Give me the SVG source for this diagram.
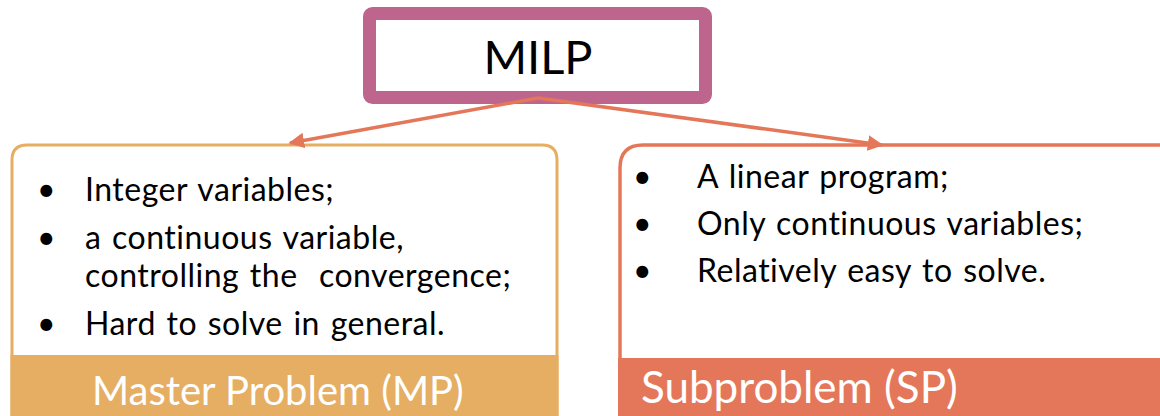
<svg xmlns="http://www.w3.org/2000/svg" width="1160" height="416" viewBox="0 0 1160 416">
  <style>
    .txt { font-family: Lato, "Open Sans", "Liberation Sans", sans-serif; fill: #000; white-space: pre; }
    .body { font-size: 32px; word-spacing: 2px; letter-spacing: 0.5px; }
    .band { font-size: 40px; fill: #fff; }
    .conn { fill: none; stroke: #E4775A; stroke-width: 3.5; }
  </style>
  <defs>
    <marker id="head" viewBox="0 0 10 10" refX="9" refY="5" markerWidth="4.5" markerHeight="4.5" orient="auto-start-reverse">
      <path d="M0,0 L10,5 L0,10 z" fill="#E4775A"/>
    </marker>
  </defs>

  <rect width="1160" height="416" fill="#fff"/>

  <!-- Master problem card -->
  <g id="master">
    <path d="M12,416 V160 Q12,145 27,145 H542 Q557,145 557,160 V416" fill="#fff" stroke="#E5AE63" stroke-width="3"/>
    <rect x="10.5" y="355" width="548" height="61" fill="#E5AE63"/>
    <text class="txt body" x="37" y="201">•</text>
    <text class="txt body" x="85" y="201">Integer variables;</text>
    <text class="txt body" x="37" y="249">•</text>
    <text class="txt body" x="85" y="249">a continuous variable,</text>
    <text class="txt body" x="85" y="287" xml:space="preserve">controlling the  convergence;</text>
    <text class="txt body" x="37" y="335">•</text>
    <text class="txt body" x="85" y="335">Hard to solve in general.</text>
    <text class="txt band" x="92" y="405">Master Problem (MP)</text>
  </g>

  <!-- Subproblem card -->
  <g id="subproblem">
    <path d="M620,416 V168 Q620,145 643,145 H1166" fill="#fff" stroke="#E4775A" stroke-width="3.5"/>
    <rect x="618" y="358" width="548" height="58" fill="#E4775A"/>
    <text class="txt body" x="633" y="188">•</text>
    <text class="txt body" x="697" y="188">A linear program;</text>
    <text class="txt body" x="633" y="235">•</text>
    <text class="txt body" x="697" y="235">Only continuous variables;</text>
    <text class="txt body" x="633" y="282">•</text>
    <text class="txt body" x="697" y="282">Relatively easy to solve.</text>
    <text class="txt band" x="641" y="403" style="font-size:44px">Subproblem (SP)</text>
  </g>

  <!-- MILP root -->
  <g id="milp">
    <rect x="369.5" y="13.5" width="336" height="84" rx="3" fill="#fff" stroke="#BD658C" stroke-width="13"/>
    <text class="txt" x="538" y="74" text-anchor="middle" style="font-size:47px">MILP</text>
  </g>

  <!-- Connectors -->
  <g id="connectors">
    <path class="conn" d="M538,98 L290,143" marker-end="url(#head)"/>
    <path class="conn" d="M538,98 L882,145" marker-end="url(#head)"/>
  </g>
</svg>
